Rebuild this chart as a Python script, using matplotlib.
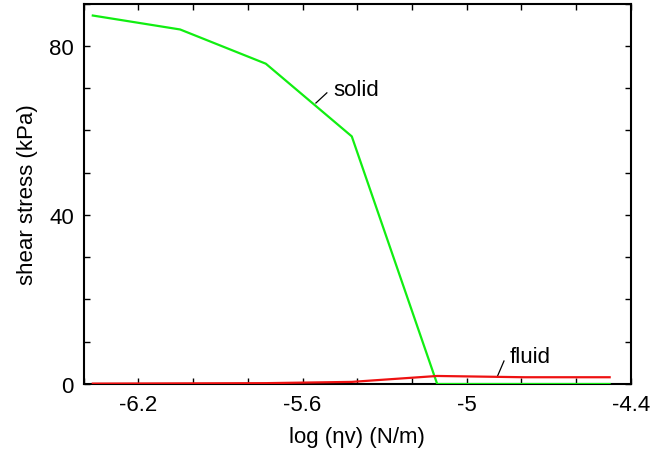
import matplotlib
matplotlib.use("Agg")
import matplotlib.pyplot as plt
from matplotlib.ticker import MultipleLocator, FixedLocator

plt.rcParams['font.family'] = ['Liberation Sans', 'DejaVu Sans']

# log(eta*v) sample points
log_eta_v = [-6.366, -6.047, -5.734, -5.42, -5.108, -4.79, -4.478]
solid_stress = [87.2, 83.9, 75.8, 58.6, 0.0, 0.0, 0.0]
fluid_stress = [0.1, 0.15, 0.2, 0.5, 1.9, 1.6, 1.6]

x_major = [-6.2, -5.6, -5.0, -4.4]
x_major_labels = ['-6.2', '-5.6', '-5', '-4.4']
y_major = [0, 40, 80]

FS = 16

fig = plt.figure(figsize=(6.69, 4.52), dpi=100)
ax = fig.add_axes([83.5 / 669, 1 - 385 / 452, (631 - 83.5) / 669, (385 - 4.7) / 452])

ax.plot(log_eta_v, solid_stress, color='#11ee11', lw=1.6, zorder=3)
ax.plot(log_eta_v, fluid_stress, color='#ee1111', lw=1.6, zorder=3)

ax.set_xlim(-6.4, -4.4)
ax.set_ylim(0, 90)

ax.xaxis.set_major_locator(FixedLocator(x_major))
ax.set_xticklabels(x_major_labels)
ax.xaxis.set_minor_locator(MultipleLocator(0.2))
ax.yaxis.set_major_locator(FixedLocator(y_major))
ax.yaxis.set_minor_locator(MultipleLocator(10))

ax.tick_params(which='both', direction='in', top=True, right=True,
               length=4.5, width=1.0, labelsize=FS, pad=7)
for sp in ax.spines.values():
    sp.set_linewidth(1.5)

ax.set_xlabel('log (ηv) (N/m)', fontsize=FS, labelpad=8)
ax.set_ylabel('shear stress (kPa)', fontsize=FS, labelpad=8)

# curve labels with short leader lines
ax.plot([-5.551, -5.511], [66.5, 68.9], color='black', lw=0.9)
ax.text(-5.489, 69.8, 'solid', fontsize=FS, va='center', ha='left')
ax.plot([-4.889, -4.864], [1.66, 5.44], color='black', lw=0.9)
ax.text(-4.842, 6.4, 'fluid', fontsize=FS, va='center', ha='left')

fig.savefig('out.png', dpi=100)
